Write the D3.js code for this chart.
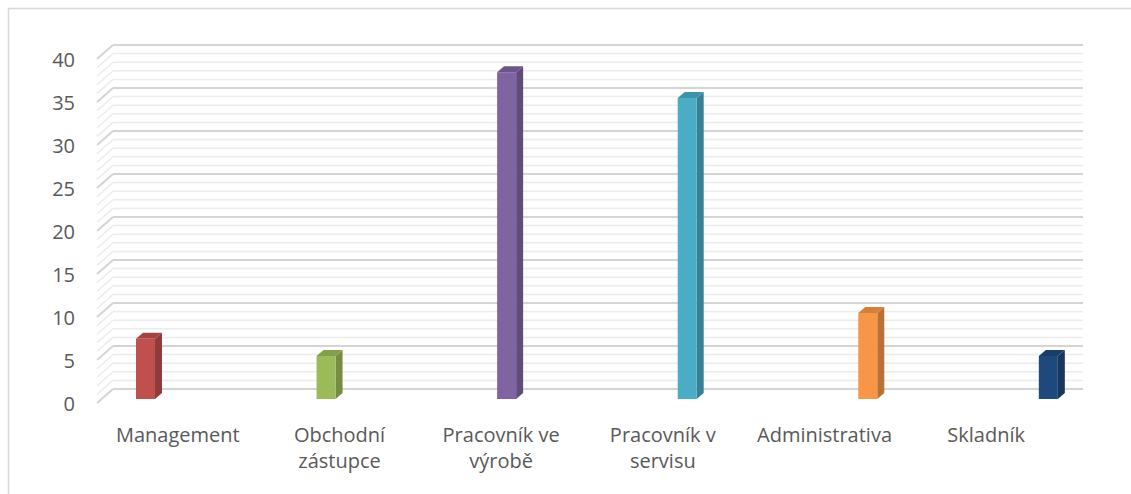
<!DOCTYPE html>
<html>
<head>
<meta charset="utf-8">
<script src="https://cdn.jsdelivr.net/npm/d3@7"></script>
<style>
html,body{margin:0;padding:0;background:#fff;}
svg{display:block;}
</style>
</head>
<body>
<svg id="chart" width="1131" height="494"></svg>
<script>
const categories = ["Management", "Obchodní zástupce", "Pracovník ve výrobě", "Pracovník v servisu", "Administrativa", "Skladník"];
const values = [7, 5, 38, 35, 10, 5];
const colors = ["#C0504D", "#9BBB59", "#8064A2", "#4BACC6", "#F79646", "#1F497D"];
const yTicks = [0, 5, 10, 15, 20, 25, 30, 35, 40];
const minorTicks = d3.range(0, 41, 1);

const svg = d3.select("#chart");
const font = "'Open Sans', Lato, sans-serif";

// outer border
svg.append("rect").attr("x", 8.5).attr("y", 8.5).attr("width", 1140).attr("height", 500)
  .attr("fill", "none").attr("stroke", "#d9d9d9").attr("stroke-width", 1.5);

// geometry
const wallDX = 16, wallDY = 14;
const yBack = d3.scaleLinear().domain([0, 40]).range([389, 45]);
const xFront = d3.scaleBand().domain(categories).range([97, 1067]).padding(0);
const inner = d3.scaleBand().domain(d3.range(categories.length)).range([39, 39 + 18.9 * categories.length]);
const barFrontShift = 10;
const barW = 19, bdx = 7, bdy = -6;

// gridlines
const grid = svg.append("g");
function gridLine(v, major) {
  const yb = yBack(v);
  const col = major ? "#d4d4d4" : "#ececec";
  const sw = major ? 2 : 1.5;
  grid.append("line").attr("x1", 97 + wallDX).attr("x2", 1067 + wallDX)
    .attr("y1", yb).attr("y2", yb).attr("stroke", col).attr("stroke-width", sw);
  grid.append("line").attr("x1", 97).attr("y1", yb + wallDY).attr("x2", 97 + wallDX).attr("y2", yb)
    .attr("stroke", col).attr("stroke-width", sw);
}
minorTicks.filter(v => v % 5 !== 0).forEach(v => gridLine(v, false));
yTicks.forEach(v => gridLine(v, true));

// y axis labels
svg.append("g").selectAll("text").data(yTicks).join("text")
  .attr("x", 75).attr("y", d => yBack(d) + wallDY)
  .attr("text-anchor", "end").attr("dominant-baseline", "central")
  .attr("font-family", font).attr("font-size", 20).attr("fill", "#595959")
  .text(d => d);

// bars
const bars = svg.append("g");
categories.forEach((c, i) => {
  const x = xFront(c) + inner(i);
  const yb = yBack(0) + barFrontShift;
  const yt = yBack(values[i]) + barFrontShift;
  const base = d3.color(colors[i]);
  const side = base.darker(0.8);
  const top = base.darker(0.45);
  bars.append("polygon").attr("points", [[x + barW, yt], [x + barW + bdx, yt + bdy], [x + barW + bdx, yb + bdy], [x + barW, yb]].join(" "))
    .attr("fill", side);
  bars.append("polygon").attr("points", [[x, yt], [x + barW, yt], [x + barW + bdx, yt + bdy], [x + bdx, yt + bdy]].join(" "))
    .attr("fill", top);
  bars.append("rect").attr("x", x).attr("y", yt).attr("width", barW).attr("height", yb - yt).attr("fill", base);
});

// category labels with wrapping
const labels = svg.append("g");
categories.forEach(c => {
  const t = labels.append("text").attr("font-family", font).attr("font-size", 20).attr("fill", "#595959")
    .attr("text-anchor", "middle");
  const cx = xFront(c) + xFront.bandwidth() / 2;
  const words = c.split(" ");
  const lines = [];
  let cur = [];
  const maxW = xFront.bandwidth() - 12;
  words.forEach(w => {
    const test = cur.concat([w]).join(" ");
    const probe = t.append("tspan").text(test);
    const wid = probe.node().getComputedTextLength();
    probe.remove();
    if (wid > maxW && cur.length) { lines.push(cur.join(" ")); cur = [w]; } else cur.push(w);
  });
  lines.push(cur.join(" "));
  lines.forEach((l, k) => {
    t.append("tspan").attr("x", cx).attr("y", 442 + k * 26).text(l);
  });
});
</script>
</body>
</html>
